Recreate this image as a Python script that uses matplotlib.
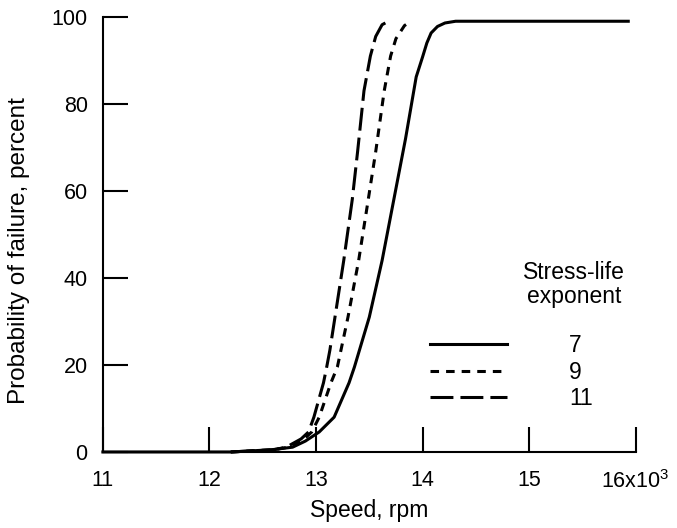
import matplotlib.pyplot as plt
from matplotlib.lines import Line2D

plt.rcParams['font.family'] = ['Liberation Sans', 'DejaVu Sans']
plt.rcParams['mathtext.fontset'] = 'custom'
plt.rcParams['mathtext.rm'] = 'Liberation Sans'
plt.rcParams['mathtext.it'] = 'Liberation Sans:italic'

# (speed in thousands of rpm, probability in percent)
speed_7 = [11.0, 12.2, 12.58, 12.78, 12.9, 13.03, 13.17, 13.31, 13.36, 13.5,
           13.62, 13.73, 13.84, 13.94, 14.0, 14.04, 14.08, 14.14, 14.21, 14.31, 15.93]
prob_7 = [0, 0, 0.5, 1.1, 2.5, 4.6, 8, 15.9, 19.5, 31,
          44, 58, 72, 86.2, 90.8, 94, 96.3, 97.8, 98.6, 99, 99]

speed_9 = [12.2, 12.6, 12.74, 12.88, 12.96, 13.03, 13.14, 13.2, 13.3, 13.4,
           13.49, 13.56, 13.64, 13.7, 13.75, 13.83, 13.89]
prob_9 = [0, 0.5, 1.1, 2.8, 4.6, 8, 15.9, 19.5, 31, 44,
          58, 69, 83, 91, 95, 98, 99]

speed_11 = [12.2, 12.6, 12.72, 12.86, 12.93, 12.98, 13.07, 13.10, 13.13, 13.26,
            13.34, 13.39, 13.45, 13.51, 13.56, 13.62, 13.68]
prob_11 = [0, 0.5, 1.1, 3, 4.6, 8, 15.9, 19.5, 23.4, 44,
           58, 69, 83, 91, 95.5, 98.2, 99]

exponents = ['7', '9', '11']
x_ticks = [11, 12, 13, 14, 15, 16]
x_tick_labels = ['11', '12', '13', '14', '15', '16x10$^3$']
y_ticks = [0, 20, 40, 60, 80, 100]

lw = 2.2
styles = [dict(linestyle='-'),
          dict(dashes=(2.8, 2.3)),
          dict(dashes=(7.5, 2.3))]

fig = plt.figure(figsize=(6.77, 5.28), dpi=100)
ax = fig.add_axes([0.152, 0.144, 0.787, 0.824])

series = [(speed_7, prob_7), (speed_9, prob_9), (speed_11, prob_11)]
for (xs, ys), st in zip(series, styles):
    ax.plot(xs, ys, color='black', lw=lw, clip_on=False, **st)

ax.set_xlim(11, 16)
ax.set_ylim(0, 100)
for side in ['top', 'right']:
    ax.spines[side].set_visible(False)
for side in ['left', 'bottom']:
    ax.spines[side].set_linewidth(1.5)

ax.set_xticks(x_ticks)
ax.set_xticklabels(x_tick_labels)
ax.set_yticks(y_ticks)
ax.tick_params(direction='in', length=18, width=1.5, labelsize=15.5)
ax.tick_params(axis='x', pad=13)
ax.tick_params(axis='y', pad=11)

ax.set_xlabel('Speed, rpm', fontsize=16.5)
ax.xaxis.set_label_coords(0.5, -0.108)
ax.set_ylabel('Probability of failure, percent', fontsize=17.5)
ax.yaxis.set_label_coords(-0.137, 0.464)

# legend
handles = [Line2D([], [], color='black', lw=lw, **st) for st in styles]
ax.legend(handles, exponents, loc='upper left', bbox_to_anchor=(0.613, 0.27),
          frameon=False, fontsize=16.5, handlelength=3.4, handletextpad=2.7,
          labelspacing=0.15, borderpad=0, borderaxespad=0)
ax.text(0.884, 0.384, 'Stress-life\nexponent', transform=ax.transAxes,
        ha='center', va='center', fontsize=16.5, linespacing=1.05)

fig.savefig('out.png', dpi=100)
